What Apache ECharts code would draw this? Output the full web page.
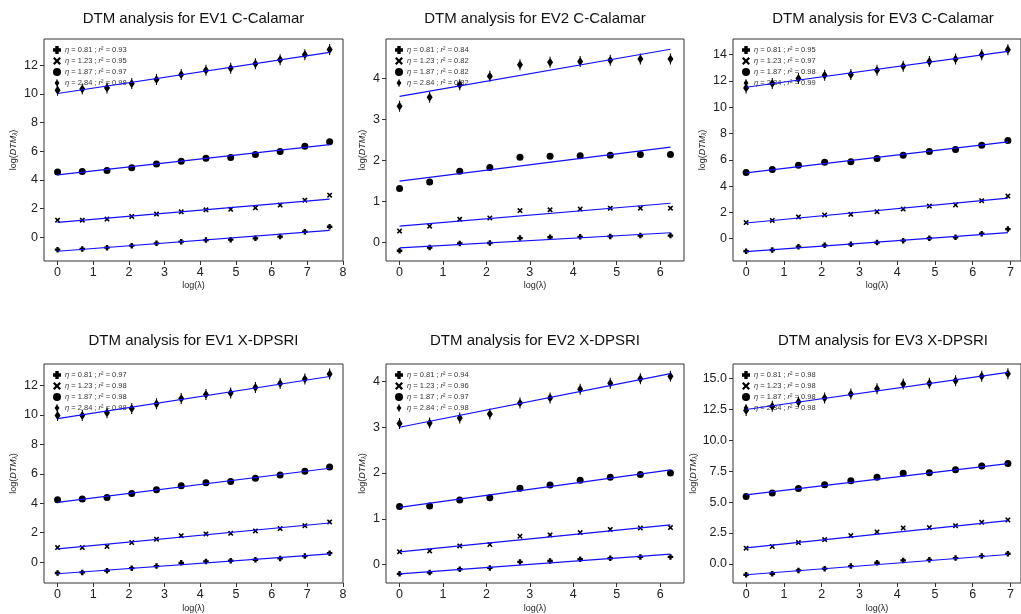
<!DOCTYPE html>
<html>
<head>
<meta charset="utf-8">
<script src="https://cdn.jsdelivr.net/npm/echarts@6/dist/echarts.min.js"></script>
<style>
  html, body { margin: 0; padding: 0; background: #fff; }
  #chart { width: 1021px; height: 614px; }
</style>
</head>
<body>
<div id="chart"></div>
<script>
// ---------- data ----------
const panelTitles = [
  'DTM analysis for EV1 C-Calamar', 'DTM analysis for EV2 C-Calamar', 'DTM analysis for EV3 C-Calamar',
  'DTM analysis for EV1 X-DPSRI', 'DTM analysis for EV2 X-DPSRI', 'DTM analysis for EV3 X-DPSRI'
];
const etaValues = ['0.81', '1.23', '1.87', '2.84'];

// log(lambda) positions
const x12 = [0, 0.693, 1.386, 2.079, 2.773, 3.466, 4.159, 4.852, 5.545, 6.238, 6.931, 7.625];
const x11 = [0, 0.693, 1.386, 2.079, 2.773, 3.466, 4.159, 4.852, 5.545, 6.238, 6.931];
const x10 = [0, 0.693, 1.386, 2.079, 2.773, 3.466, 4.159, 4.852, 5.545, 6.238];

// tick labels
const xTicks8 = [0, 1, 2, 3, 4, 5, 6, 7, 8];
const xTicks7 = [0, 1, 2, 3, 4, 5, 6, 7];
const xTicks6 = [0, 1, 2, 3, 4, 5, 6];
const yTicks12 = [0, 2, 4, 6, 8, 10, 12];
const yTicks14 = [0, 2, 4, 6, 8, 10, 12, 14];
const yTicks4 = [0, 1, 2, 3, 4];
const yTicks15 = [0, 2.5, 5, 7.5, 10, 12.5, 15];

// r^2 per panel
const r2P1 = ['0.93', '0.95', '0.97', '0.98'];
const r2P2 = ['0.84', '0.82', '0.82', '0.82'];
const r2P3 = ['0.95', '0.97', '0.98', '0.99'];
const r2P4 = ['0.97', '0.98', '0.98', '0.98'];
const r2P5 = ['0.94', '0.96', '0.97', '0.98'];
const r2P6 = ['0.98', '0.98', '0.98', '0.98'];

// EV1 C-Calamar
const p1s1 = [-0.86, -0.81, -0.72, -0.58, -0.42, -0.30, -0.19, -0.16, -0.07, 0.05, 0.39, 0.74];
const p1s2 = [1.20, 1.20, 1.27, 1.46, 1.62, 1.78, 1.92, 1.95, 2.06, 2.25, 2.59, 2.94];
const p1s3 = [4.56, 4.59, 4.66, 4.86, 5.12, 5.30, 5.51, 5.56, 5.77, 5.98, 6.35, 6.67];
const p1s4 = [10.26, 10.35, 10.42, 10.72, 11.00, 11.35, 11.65, 11.79, 12.11, 12.39, 12.74, 13.09];
const p1fit = [[-0.97, 0.49], [1.04, 2.66], [4.35, 6.46], [10.03, 12.90]];

// EV2 C-Calamar
const p2s1 = [-0.20, -0.12, -0.02, -0.01, 0.11, 0.13, 0.14, 0.15, 0.17, 0.17];
const p2s2 = [0.28, 0.40, 0.57, 0.60, 0.78, 0.80, 0.82, 0.84, 0.84, 0.84];
const p2s3 = [1.32, 1.48, 1.74, 1.83, 2.08, 2.11, 2.12, 2.13, 2.15, 2.15];
const p2s4 = [3.33, 3.55, 3.85, 4.06, 4.34, 4.40, 4.42, 4.45, 4.48, 4.48];
const p2fit = [[-0.13, 0.24], [0.40, 0.96], [1.50, 2.33], [3.57, 4.72]];

// EV3 C-Calamar
const p3s1 = [-0.96, -0.86, -0.61, -0.51, -0.43, -0.30, -0.15, 0.03, 0.10, 0.38, 0.73];
const p3s2 = [1.22, 1.39, 1.65, 1.80, 1.85, 2.05, 2.25, 2.48, 2.56, 2.89, 3.24];
const p3s3 = [5.04, 5.27, 5.59, 5.82, 5.85, 6.10, 6.35, 6.63, 6.78, 7.11, 7.47];
const p3s4 = [11.47, 11.80, 12.18, 12.43, 12.48, 12.81, 13.11, 13.47, 13.67, 14.00, 14.38];
const p3fit = [[-0.99, 0.46], [1.19, 3.09], [5.01, 7.37], [11.52, 14.25]];

// EV1 X-DPSRI
const p4s1 = [-0.74, -0.70, -0.59, -0.41, -0.27, -0.05, 0.05, 0.09, 0.16, 0.25, 0.41, 0.61];
const p4s2 = [0.99, 0.99, 1.06, 1.33, 1.56, 1.80, 1.92, 1.96, 2.12, 2.28, 2.48, 2.73];
const p4s3 = [4.24, 4.29, 4.40, 4.67, 4.92, 5.19, 5.39, 5.48, 5.71, 5.93, 6.18, 6.47];
const p4s4 = [9.97, 9.97, 10.15, 10.44, 10.76, 11.12, 11.39, 11.50, 11.87, 12.14, 12.45, 12.79];
const p4fit = [[-0.79, 0.56], [0.90, 2.66], [4.06, 6.38], [9.75, 12.62]];

// EV2 X-DPSRI
const p5s1 = [-0.20, -0.17, -0.10, -0.07, 0.06, 0.08, 0.12, 0.14, 0.17, 0.17];
const p5s2 = [0.28, 0.30, 0.41, 0.44, 0.62, 0.65, 0.70, 0.77, 0.80, 0.81];
const p5s3 = [1.27, 1.28, 1.41, 1.46, 1.67, 1.74, 1.84, 1.91, 1.97, 2.00];
const p5s4 = [3.08, 3.09, 3.20, 3.29, 3.53, 3.64, 3.83, 3.96, 4.06, 4.11];
const p5fit = [[-0.20, 0.23], [0.28, 0.87], [1.25, 2.07], [3.00, 4.17]];

// EV3 X-DPSRI
const p6s1 = [-0.89, -0.81, -0.54, -0.40, -0.19, 0.08, 0.27, 0.32, 0.46, 0.62, 0.81];
const p6s2 = [1.26, 1.40, 1.72, 1.96, 2.28, 2.58, 2.90, 2.93, 3.09, 3.36, 3.55];
const p6s3 = [5.46, 5.73, 6.10, 6.40, 6.72, 7.02, 7.34, 7.37, 7.61, 7.93, 8.12];
const p6s4 = [12.42, 12.77, 13.12, 13.44, 13.76, 14.19, 14.57, 14.62, 14.84, 15.19, 15.40];
const p6fit = [[-0.89, 0.75], [1.29, 3.49], [5.59, 8.12], [12.50, 15.51]];

// axis ranges and tick steps per panel
const xRanges = [[-0.38, 8.0], [-0.312, 6.55], [-0.347, 7.278], [-0.38, 8.0], [-0.312, 6.55], [-0.347, 7.278]];
const yRanges = [[-1.65, 13.83], [-0.45, 4.97], [-1.70, 15.19], [-1.42, 13.47], [-0.40, 4.38], [-1.56, 16.19]];
const yTickSteps = [2, 1, 2, 2, 1, 2.5];
const xTickSets = [xTicks8, xTicks6, xTicks7, xTicks8, xTicks6, xTicks7];
const yTickSets = [yTicks12, yTicks4, yTicks14, yTicks12, yTicks4, yTicks15];

// ---------- layout / styling ----------
const grids = [
  { left: 44, top: 39, width: 299, height: 222 },
  { left: 386, top: 39, width: 298, height: 222 },
  { left: 733, top: 39, width: 300, height: 222 },
  { left: 44, top: 364, width: 299, height: 220 },
  { left: 386, top: 364, width: 298, height: 220 },
  { left: 733, top: 364, width: 300, height: 220 }
];
const yNameGaps = [25, 18, 25, 25, 18, 33];

const panels = [
  { x: x12, ys: [p1s1, p1s2, p1s3, p1s4], fit: p1fit, r2: r2P1 },
  { x: x10, ys: [p2s1, p2s2, p2s3, p2s4], fit: p2fit, r2: r2P2 },
  { x: x11, ys: [p3s1, p3s2, p3s3, p3s4], fit: p3fit, r2: r2P3 },
  { x: x12, ys: [p4s1, p4s2, p4s3, p4s4], fit: p4fit, r2: r2P4 },
  { x: x10, ys: [p5s1, p5s2, p5s3, p5s4], fit: p5fit, r2: r2P5 },
  { x: x11, ys: [p6s1, p6s2, p6s3, p6s4], fit: p6fit, r2: r2P6 }
];

const symPlus = 'path://M-1.5,-3.5 L1.5,-3.5 L1.5,-1.5 L3.5,-1.5 L3.5,1.5 L1.5,1.5 L1.5,3.5 L-1.5,3.5 L-1.5,1.5 L-3.5,1.5 L-3.5,-1.5 L-1.5,-1.5 Z';
const symX = 'path://M-3,-1.8 L-1.8,-3 L0,-1.2 L1.8,-3 L3,-1.8 L1.2,0 L3,1.8 L1.8,3 L0,1.2 L-1.8,3 L-3,1.8 L-1.2,0 Z';
const symDiamond = 'path://M-0.7,-8 L0.7,-8 L0.7,-5.5 L4,0 L0.7,5.5 L0.7,8 L-0.7,8 L-0.7,5.5 L-4,0 L-0.7,-5.5 Z';
const symDiamondLegend = 'path://M-0.6,-6 L0.6,-6 L0.6,-4.5 L3.6,0 L0.6,4.5 L0.6,6 L-0.6,6 L-0.6,4.5 L-3.6,0 L-0.6,-4.5 Z';
const symbols = [symPlus, symX, 'circle', symDiamond];
const legendIcons = [symPlus, symX, 'circle', symDiamondLegend];
const symbolSizes = [[5.5, 5.5], [5.5, 5.5], 7, [6, 11]];

const FONT = 'Liberation Sans, Arial, sans-serif';

const option = {
  backgroundColor: '#ffffff',
  animation: false,
  title: [], grid: [], xAxis: [], yAxis: [], legend: [], series: []
};

const legendLabels = {};

panels.forEach((p, pi) => {
  const g = grids[pi];
  option.grid.push(Object.assign({ show: true, borderColor: '#333', borderWidth: 1, backgroundColor: 'transparent', containLabel: false }, g));
  option.title.push({
    text: panelTitles[pi],
    left: g.left + g.width / 2,
    top: pi < 3 ? 11 : 333,
    textAlign: 'center',
    padding: 0,
    textStyle: { fontFamily: FONT, fontSize: 15, fontWeight: 'normal', color: '#111' }
  });
  option.xAxis.push({
    type: 'value', gridIndex: pi, min: xRanges[pi][0], max: xRanges[pi][1],
    minInterval: 1, maxInterval: 1,
    name: 'log(λ)', nameLocation: 'middle', nameGap: pi < 3 ? 20 : 21,
    nameTextStyle: { fontFamily: FONT, fontSize: 9, color: '#222' },
    axisLine: { show: false, onZero: false },
    axisTick: { show: true, length: 4, lineStyle: { color: '#333' }, customValues: xTickSets[pi] },
    splitLine: { show: false },
    axisLabel: {
      customValues: xTickSets[pi],
      showMinLabel: true, showMaxLabel: true, margin: 5,
      fontFamily: FONT, fontSize: 12.5, color: '#222',
      formatter: v => (Math.abs(v - Math.round(v)) < 1e-6 ? String(Math.round(v)) : '')
    }
  });
  const step = yTickSteps[pi];
  option.yAxis.push({
    type: 'value', gridIndex: pi, min: yRanges[pi][0], max: yRanges[pi][1],
    minInterval: step, maxInterval: step,
    name: 'log({i|DTM}{s|λ})', nameLocation: 'middle', nameGap: yNameGaps[pi],
    nameTextStyle: {
      fontFamily: FONT, fontSize: 9, color: '#222',
      rich: {
        i: { fontFamily: FONT, fontSize: 9, fontStyle: 'italic', color: '#222' },
        s: { fontFamily: FONT, fontSize: 6.5, fontStyle: 'italic', color: '#222', verticalAlign: 'bottom', padding: [4, 0, 0, 0] }
      }
    },
    axisLine: { show: false, onZero: false },
    axisTick: { show: true, length: 4, lineStyle: { color: '#333' }, customValues: yTickSets[pi] },
    splitLine: { show: false },
    axisLabel: {
      customValues: yTickSets[pi],
      showMinLabel: true, showMaxLabel: true, margin: 6,
      fontFamily: FONT, fontSize: 12.5, color: '#222',
      formatter: v => {
        const k = v / step;
        if (Math.abs(k - Math.round(k)) > 1e-6) return '';
        return step === 2.5 ? v.toFixed(1) : String(Math.round(v));
      }
    }
  });

  const legendItems = [];
  p.ys.forEach((ys, si) => {
    const nm = 'P' + pi + 'S' + si;
    legendItems.push({ name: nm, icon: legendIcons[si] });
    legendLabels[nm] = '{i|η} = ' + etaValues[si] + ' ; {i|r}² = ' + p.r2[si];
    option.series.push({
      type: 'scatter', name: nm, xAxisIndex: pi, yAxisIndex: pi,
      symbol: symbols[si], symbolSize: symbolSizes[si], symbolKeepAspect: false,
      itemStyle: { color: '#000', opacity: 1 },
      data: ys.map((y, i) => [p.x[i], y]),
      z: 3
    });
  });
  p.fit.forEach((f, si) => {
    option.series.push({
      type: 'line', name: 'fit' + pi + '_' + si, xAxisIndex: pi, yAxisIndex: pi,
      data: [[p.x[0], f[0]], [p.x[p.x.length - 1], f[1]]],
      showSymbol: false, symbol: 'none',
      lineStyle: { color: '#1010ff', width: 1.2 },
      z: 4
    });
  });
  option.legend.push({
    data: legendItems,
    orient: 'vertical',
    left: g.left + 9,
    top: g.top + 7,
    padding: 0,
    itemGap: 3,
    itemWidth: 8,
    itemHeight: 8,
    selectedMode: false,
    z: 1,
    formatter: name => legendLabels[name],
    textStyle: {
      fontFamily: FONT, fontSize: 7.5, color: '#333', lineHeight: 8, padding: [0, 0, 0, -1],
      rich: { i: { fontFamily: FONT, fontSize: 7.5, fontStyle: 'italic', color: '#333' } }
    }
  });
});

const chart = echarts.init(document.getElementById('chart'), null, { renderer: 'canvas' });
chart.setOption(option);
</script>
</body>
</html>
